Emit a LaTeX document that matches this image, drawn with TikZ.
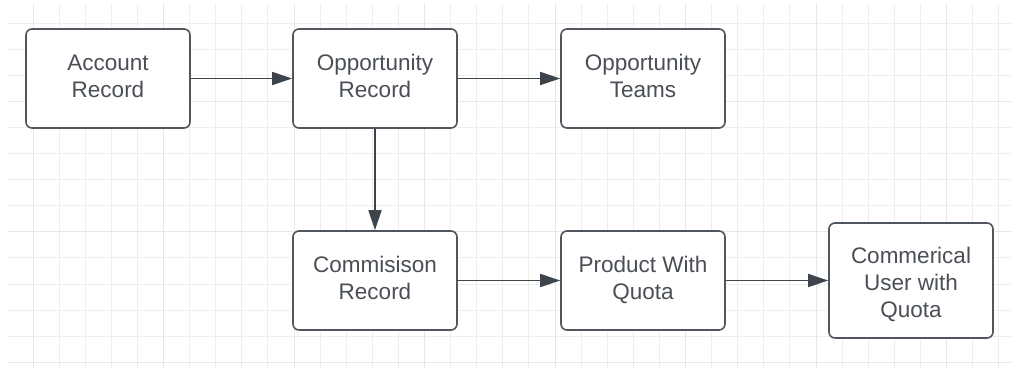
\documentclass[tikz,border=0pt]{standalone}
\usepackage{fontspec}
\setmainfont{Liberation Sans}
\usetikzlibrary{arrows.meta}
\definecolor{gridminor}{RGB}{238,238,238}
\definecolor{gridmajor}{RGB}{231,231,231}
\definecolor{boxline}{RGB}{80,86,94}
\definecolor{arrline}{RGB}{62,68,76}
\definecolor{txt}{RGB}{74,79,86}
\tikzset{
  box/.style={draw=boxline, line width=1.6bp, rounded corners=6bp, fill=white,
    minimum width=164bp, minimum height=99bp, inner sep=0pt, align=center,
    text=txt, font=\fontsize{22.5bp}{27bp}\selectfont, text depth=5bp},
  tallbox/.style={box, minimum height=115bp, text height=74bp, text depth=0bp},
  arr/.style={draw=arrline, line width=1.5bp,
    -{Triangle[length=20bp,width=13bp,fill=arrline]}},
  gminor/.style={draw=gridminor, line width=1bp},
  gmajor/.style={draw=gridmajor, line width=1bp}
}
\begin{document}
\begin{tikzpicture}[x=1bp,y=-1bp]
\useasboundingbox (0,0) rectangle (1011,368);
\fill[white] (0,0) rectangle (1011,368);
% grid
\foreach \k in {0,...,13} \draw[gminor] (8,{23+26.1*\k}) -- (1011,{23+26.1*\k});
\foreach \k in {0,...,37} \draw[gminor] ({33+26.1*\k},4) -- ({33+26.1*\k},368);
\foreach \k in {3,8,13} \draw[gmajor] (8,{23+26.1*\k}) -- (1011,{23+26.1*\k});
\foreach \k in {0,5,...,35} \draw[gmajor] ({33+26.1*\k},4) -- ({33+26.1*\k},368);
% boxes
\node[box] (acct) at (108,78.5) {Account\\Record};
\node[box] (opp) at (375,78.5) {Opportunity\\Record};
\node[box] (team) at (643,78.5) {Opportunity\\Teams};
\node[box] (comm) at (375,280.5) {Commisison\\Record};
\node[box] (prod) at (643,280.5) {Product With\\Quota};
\node[tallbox] (user) at (911,280.5) {Commerical\\User with\\Quota};
% connectors
\draw[arr] (acct.east) -- (opp.west);
\draw[arr] (opp.east) -- (team.west);
\draw[arr] (opp.south) -- (comm.north);
\draw[arr] (comm.east) -- (prod.west);
\draw[arr] (prod.east) -- (user.west);
\end{tikzpicture}
\end{document}
